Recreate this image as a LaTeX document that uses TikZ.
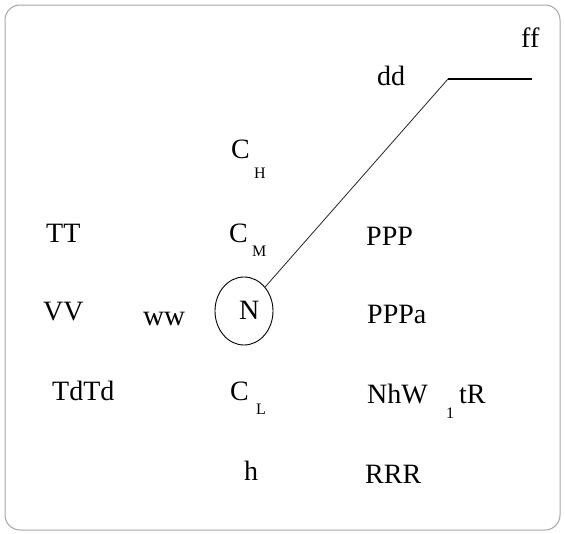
\documentclass[tikz,border=0pt]{standalone}
\usepackage{fontspec}
\setmainfont{Liberation Serif}
\usetikzlibrary{shapes.geometric}
\begin{document}
\begin{tikzpicture}[x=1pt,y=-1pt,
  lbl/.style={anchor=base west,inner sep=0pt,font=\fontsize{28}{32}\selectfont},
  lblw/.style={anchor=base west,inner sep=0pt,font=\fontsize{29}{32}\selectfont},
  sub/.style={anchor=base west,inner sep=0pt,font=\fontsize{16}{18}\selectfont},
  frame/.style={draw=black!35,line width=1pt,rounded corners=15pt},
  ring/.style={draw,ellipse,minimum width=58pt,minimum height=68pt,inner sep=0pt,line width=0.9pt},
  conn/.style={draw=black!85,line width=0.8pt},
  bar/.style={draw,line width=1.2pt}]
\useasboundingbox (0,0) rectangle (565,533);
\fill[white] (0,0) rectangle (565,533);
\path[frame] (5,5) rectangle (560,530);
% labels
\node[lbl] (ff) at (521,47) {ff};
\node[lbl] (dd) at (377,85) {dd};
\node[lbl] (ch) at (231,158) {C};
\node[sub] (chs) at (254,178) {H};
\node[lbl] (cm) at (229,242) {C};
\node[sub] (cms) at (252,256) {M};
\node[lbl] (tt) at (46,242) {TT};
\node[lbl] (ppp) at (366,245) {PPP};
\node[lbl] (vv) at (43,320) {VV};
\node[lblw] (ww) at (143,325) {ww};
\node[ring] (nc) at (244,311) {};
\node[lbl] (n) at (239,319) {N};
\node[lbl] (pppa) at (367,323) {PPPa};
\node[lbl] (tdtd) at (52,400) {TdTd};
\node[lbl] (cl) at (230,400) {C};
\node[sub] (cls) at (256,414) {L};
\node[lbl] (nhw) at (367,403) {NhW};
\node[sub] (one) at (446,418) {1};
\node[lbl] (tr) at (459,403) {tR};
\node[lbl] (h) at (244,480) {h};
\node[lbl] (rrr) at (365,483) {RRR};
% connector
\coordinate (bend) at (448,79);
\coordinate (lend) at (532,79);
\path[conn] (nc) -- (bend);
\path[bar] (bend) -- (lend);
\end{tikzpicture}
\end{document}
